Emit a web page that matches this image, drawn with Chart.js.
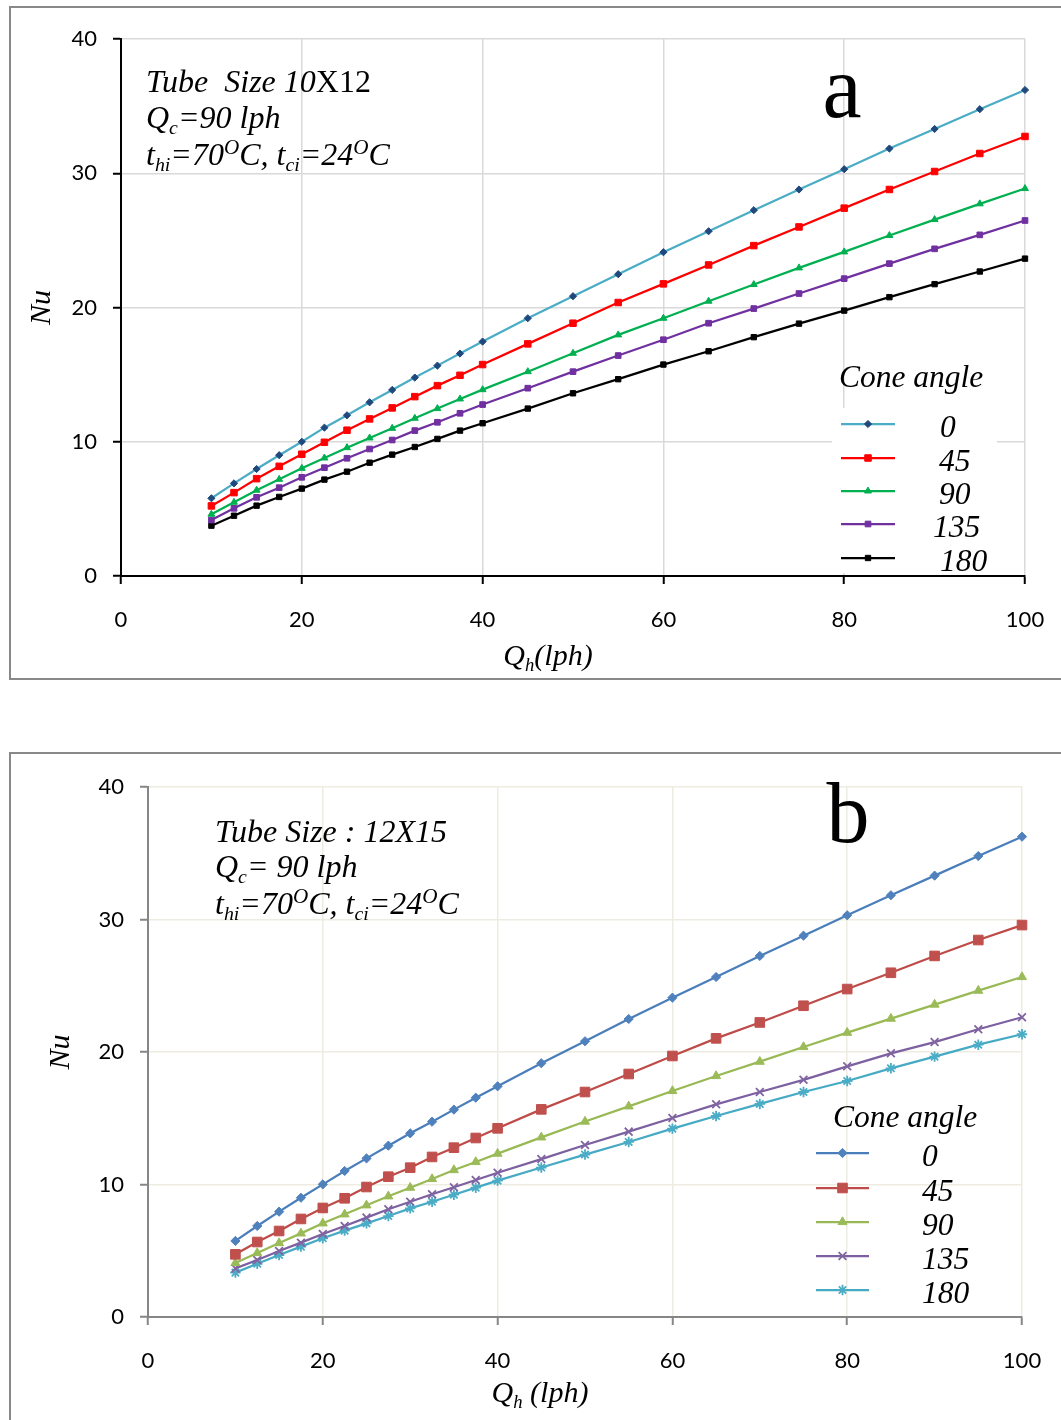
<!DOCTYPE html>
<html>
<head>
<meta charset="utf-8">
<script src="https://cdn.jsdelivr.net/npm/chart.js@4.4.0/dist/chart.umd.min.js"></script>
<style>
  body { margin: 0; background: #fff; width: 1061px; height: 1420px; overflow: hidden; position: relative; }
  .frame { position: absolute; border: 2px solid #888; box-sizing: border-box; background: #fff; }
  #frameA { left: 9px; top: 6px; width: 1100px; height: 674px; }
  #frameB { left: 9px; top: 752px; width: 1100px; height: 800px; }
  canvas { position: absolute; left: 0; }
  #chartA { top: 0; }
  #chartB { top: 740px; }
</style>
</head>
<body>
<div class="frame" id="frameA"></div>
<div class="frame" id="frameB"></div>
<canvas id="chartA" width="1061" height="690"></canvas>
<canvas id="chartB" width="1061" height="680"></canvas>
<script>
// hot water flow rate Qh (lph)
const qh = [10, 12.5, 15, 17.5, 20, 22.5, 25, 27.5, 30, 32.5, 35, 37.5, 40, 45, 50, 55, 60, 65, 70, 75, 80, 85, 90, 95, 100];
const coneAngles = ['0', '45', '90', '135', '180'];
const xTicks = [0, 20, 40, 60, 80, 100];
const yTicks = [0, 10, 20, 30, 40];

// (a) tube size 10X12
const nuA0   = [5.79, 6.9, 7.97, 9.0, 10.0, 11.05, 11.97, 12.94, 13.86, 14.78, 15.67, 16.57, 17.46, 19.2, 20.84, 22.48, 24.12, 25.68, 27.25, 28.79, 30.3, 31.84, 33.3, 34.77, 36.2];
const nuA45  = [5.22, 6.21, 7.25, 8.17, 9.07, 9.96, 10.86, 11.7, 12.52, 13.36, 14.18, 14.95, 15.75, 17.29, 18.83, 20.37, 21.76, 23.17, 24.61, 26.0, 27.4, 28.79, 30.13, 31.47, 32.74];
const nuA90  = [4.6, 5.49, 6.39, 7.2, 8.02, 8.79, 9.56, 10.28, 11.0, 11.75, 12.47, 13.19, 13.88, 15.22, 16.59, 17.96, 19.2, 20.47, 21.71, 22.95, 24.14, 25.36, 26.55, 27.72, 28.86];
const nuA135 = [4.17, 5.04, 5.86, 6.58, 7.35, 8.07, 8.77, 9.46, 10.13, 10.83, 11.45, 12.12, 12.77, 13.99, 15.22, 16.42, 17.6, 18.83, 19.92, 21.04, 22.15, 23.27, 24.37, 25.41, 26.48];
const nuA180 = [3.75, 4.49, 5.24, 5.89, 6.51, 7.18, 7.77, 8.44, 9.04, 9.61, 10.21, 10.83, 11.38, 12.47, 13.61, 14.66, 15.75, 16.74, 17.79, 18.8, 19.77, 20.77, 21.74, 22.68, 23.64];

// (b) tube size 12X15
const nuB0   = [5.74, 6.87, 7.95, 9.0, 10.01, 11.02, 11.97, 12.93, 13.86, 14.74, 15.65, 16.55, 17.41, 19.15, 20.81, 22.49, 24.1, 25.66, 27.25, 28.78, 30.32, 31.83, 33.31, 34.79, 36.25];
const nuB45  = [4.73, 5.66, 6.49, 7.4, 8.23, 8.96, 9.81, 10.59, 11.27, 12.08, 12.78, 13.51, 14.24, 15.67, 16.98, 18.34, 19.7, 21.03, 22.23, 23.49, 24.75, 25.98, 27.25, 28.45, 29.58];
const nuB90  = [4.08, 4.83, 5.58, 6.31, 7.07, 7.75, 8.43, 9.11, 9.76, 10.42, 11.09, 11.7, 12.33, 13.56, 14.75, 15.9, 17.06, 18.19, 19.27, 20.38, 21.46, 22.52, 23.58, 24.63, 25.66];
const nuB135 = [3.67, 4.3, 4.98, 5.61, 6.26, 6.87, 7.5, 8.13, 8.7, 9.26, 9.79, 10.34, 10.89, 11.92, 12.98, 13.99, 15.02, 16.05, 16.98, 17.9, 18.92, 19.9, 20.75, 21.72, 22.62];
const nuB180 = [3.35, 4.02, 4.68, 5.31, 5.94, 6.52, 7.07, 7.62, 8.2, 8.7, 9.23, 9.76, 10.29, 11.28, 12.26, 13.21, 14.22, 15.17, 16.08, 16.98, 17.81, 18.77, 19.65, 20.55, 21.34];

const serif = '"Liberation Serif", "Times New Roman", serif';

// draws text with _{sub}, ^{sup} and |upright| parts, returns width
function drawRich(ctx, src, x, y, size, measureOnly) {
  const parts = src.split(/(_\{[^}]*\}|\^\{[^}]*\}|\|[^|]*\|)/).filter(s => s);
  let cx = x;
  parts.forEach(p => {
    let t = p, fs = size, dy = 0, style = 'italic ';
    if (p[0] === '_') { t = p.slice(2, -1); fs = size * 0.62; dy = size * 0.2; }
    else if (p[0] === '^') { t = p.slice(2, -1); fs = size * 0.66; dy = -size * 0.34; }
    else if (p[0] === '|') { t = p.slice(1, -1); style = ''; }
    ctx.font = style + fs + 'px ' + serif;
    if (!measureOnly) ctx.fillText(t, cx, y + dy);
    cx += ctx.measureText(t).width;
  });
  return cx - x;
}

function figurePlugin(cfg) {
  return {
    id: 'figure' + cfg.letter,
    beforeDatasetsDraw(chart) {
      if (!cfg.legendBox) return;
      const ctx = chart.ctx;
      const [x1, y1, x2, y2] = cfg.legendBox;
      ctx.save();
      ctx.fillStyle = '#fff';
      ctx.fillRect(x1, y1, x2 - x1, y2 - y1);
      ctx.restore();
    },
    afterDraw(chart) {
      const ctx = chart.ctx;
      ctx.save();
      ctx.fillStyle = '#000';
      ctx.textAlign = 'left';
      ctx.textBaseline = 'alphabetic';
      cfg.notes.forEach((line, i) => drawRich(ctx, line, cfg.noteX, cfg.noteY[i], 32));

      ctx.font = cfg.letterSize + 'px ' + serif;
      ctx.textAlign = 'center';
      ctx.fillText(cfg.letter, cfg.letterX, cfg.letterY);
      ctx.textAlign = 'left';

      const w = drawRich(ctx, cfg.xTitle, 0, 0, 30, true);
      drawRich(ctx, cfg.xTitle, cfg.xTitleX - w / 2, cfg.xTitleY, 30);

      const lg = cfg.legend;
      drawRich(ctx, 'Cone angle', lg.titleX, lg.titleY, 31.5);
      chart.data.datasets.forEach((ds, i) => {
        const y = lg.ys[i];
        ctx.strokeStyle = ds.borderColor;
        ctx.lineWidth = ds.borderWidth;
        ctx.beginPath();
        ctx.moveTo(lg.x1, y);
        ctx.lineTo(lg.x2, y);
        ctx.stroke();
        ctx.fillStyle = ds.pointBackgroundColor;
        ctx.strokeStyle = ds.pointBorderColor;
        ctx.lineWidth = ds.pointBorderWidth;
        Chart.helpers.drawPoint(ctx, {
          pointStyle: ds.pointStyle, radius: ds.pointRadius, rotation: 0, borderWidth: ds.pointBorderWidth
        }, (lg.x1 + lg.x2) / 2, y);
        ctx.fillStyle = '#000';
        drawRich(ctx, ds.label, lg.labelX[i], y + 13, 31.5);
      });
      ctx.restore();
    }
  };
}

function series(label, values, line, point, style, radius, pbw) {
  return {
    label: label,
    data: qh.map((x, i) => ({ x: x, y: values[i] })),
    borderColor: line,
    backgroundColor: point,
    pointBackgroundColor: point,
    pointBorderColor: point,
    pointStyle: style,
    pointRadius: radius,
    pointBorderWidth: pbw,
    borderWidth: 2.25,
    tension: 0,
    clip: false
  };
}

function scales(c) {
  return {
    x: {
      type: 'linear', min: 0, max: 100,
      afterBuildTicks: s => { s.ticks = xTicks.map(v => ({ value: v })); },
      afterFit: s => { s.height = c.xh; s.paddingLeft = 0; s.paddingRight = 0; },
      grid: { color: c.grid, lineWidth: 1.5, tickColor: c.axis, tickWidth: 2, tickLength: 8 },
      border: { color: c.axis, width: 2 },
      ticks: { color: '#000', font: { family: 'Lato', size: 22 }, padding: 23, maxRotation: 0, autoSkip: false }
    },
    y: {
      type: 'linear', min: 0, max: 40,
      afterBuildTicks: s => { s.ticks = yTicks.map(v => ({ value: v })); },
      afterFit: s => { s.width = c.yw; s.paddingTop = 0; s.paddingBottom = 0; },
      grid: { color: c.grid, lineWidth: 1.5, tickColor: c.axis, tickWidth: 2, tickLength: 8 },
      border: { color: c.axis, width: 2 },
      ticks: { color: '#000', font: { family: 'Lato', size: 22 }, padding: 16 },
      title: { display: true, text: 'Nu', color: '#000', font: { family: serif, size: 30, style: 'italic' }, padding: { top: c.nuPad, bottom: 0 } }
    }
  };
}

function baseOptions(c) {
  return {
    responsive: false,
    animation: false,
    layout: { padding: { top: c.top, right: c.right, left: 0, bottom: 0 } },
    plugins: { legend: { display: false }, tooltip: { enabled: false } },
    scales: scales(c)
  };
}

new Chart(document.getElementById('chartA'), {
  type: 'line',
  data: {
    datasets: [
      series(coneAngles[0], nuA0, '#4bacc6', '#1f497d', 'rectRot', 3.6, 1),
      series(coneAngles[1], nuA45, '#ff0000', '#ff0000', 'rect', 4.6, 1),
      series(coneAngles[2], nuA90, '#00b050', '#00b050', 'triangle', 4, 1),
      series(coneAngles[3], nuA135, '#7030a0', '#7030a0', 'rect', 4, 1),
      series(coneAngles[4], nuA180, '#000000', '#000000', 'rect', 3.8, 1)
    ]
  },
  options: baseOptions({ top: 39, right: 36, xh: 114, yw: 121, nuPad: 24, grid: '#d9d9d9', axis: '#000' }),
  plugins: [figurePlugin({
    letter: 'a', letterSize: 88, letterX: 842, letterY: 117,
    notes: ['Tube  Size 10|X12|', 'Q_{c}=90 lph', 't_{hi}=70^{O}C, t_{ci}=24^{O}C'],
    noteX: 146, noteY: [92, 128, 165],
    xTitle: 'Q_{h}(lph)', xTitleX: 548, xTitleY: 665,
    legendBox: [832, 408, 997, 573],
    legend: { titleX: 839, titleY: 387, x1: 841, x2: 895, ys: [424, 458, 491, 524, 558], labelX: [940, 939, 939, 933, 940] }
  })]
});

new Chart(document.getElementById('chartB'), {
  type: 'line',
  data: {
    datasets: [
      series(coneAngles[0], nuB0, '#4a7ebb', '#4f81bd', 'rectRot', 4.6, 1),
      series(coneAngles[1], nuB45, '#be4b48', '#c0504d', 'rect', 6.8, 1),
      series(coneAngles[2], nuB90, '#98b954', '#9bbb59', 'triangle', 5.2, 1),
      series(coneAngles[3], nuB135, '#7d60a0', '#8064a2', 'crossRot', 5.5, 1.8),
      series(coneAngles[4], nuB180, '#46aac5', '#4bacc6', 'star', 5.2, 1.8)
    ]
  },
  options: baseOptions({ top: 47, right: 39, xh: 103, yw: 148, nuPad: 43, grid: '#eeece1', axis: '#868686' }),
  plugins: [figurePlugin({
    letter: 'b', letterSize: 86, letterX: 848, letterY: 102,
    notes: ['Tube Size : 12X15', 'Q_{c}= 90 lph', 't_{hi}=70^{O}C, t_{ci}=24^{O}C'],
    noteX: 215, noteY: [102, 137, 174],
    xTitle: 'Q_{h} (lph)', xTitleX: 540, xTitleY: 662,
    legendBox: null,
    legend: { titleX: 833, titleY: 387, x1: 816, x2: 869, ys: [413, 448, 482, 516, 550], labelX: [922, 922, 922, 922, 922] }
  })]
});
</script>
</body>
</html>
